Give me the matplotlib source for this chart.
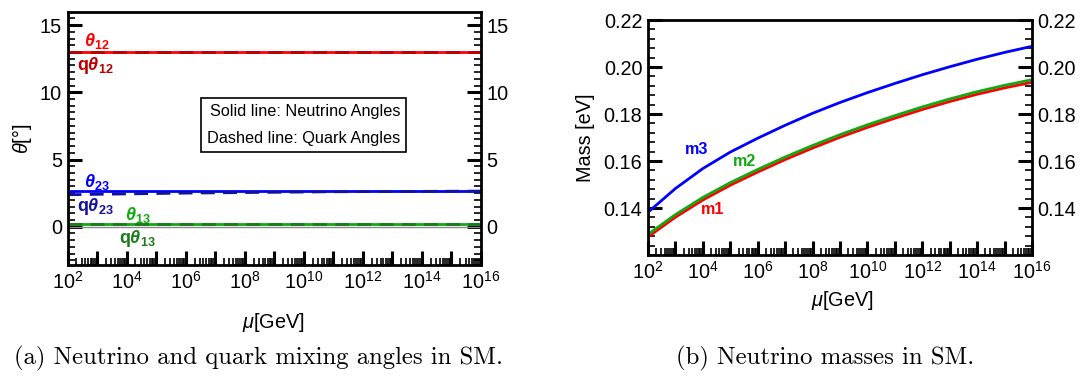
import numpy as np
import matplotlib
matplotlib.use("Agg")
import matplotlib.pyplot as plt
from matplotlib.ticker import FixedLocator, LogLocator, NullFormatter

plt.rcParams["font.family"] = ["Liberation Sans", "DejaVu Sans"]
plt.rcParams["mathtext.fontset"] = "custom"
plt.rcParams["mathtext.rm"] = "Liberation Sans"
plt.rcParams["mathtext.it"] = "Liberation Sans:italic"
plt.rcParams["mathtext.bf"] = "Liberation Sans:bold"
plt.rcParams["mathtext.bfit"] = "Liberation Sans:italic:bold"

# energy scale, log10(mu / GeV)
log_mu = [2, 3, 4, 5, 6, 7, 8, 9, 10, 11, 12, 13, 14, 15, 16]

# mixing angles [deg]
theta12 = [13.0] * 15
q_theta12 = [12.98] * 15
theta23 = [2.66] * 15
q_theta23 = [2.38, 2.41, 2.44, 2.47, 2.5, 2.52, 2.54, 2.56, 2.58, 2.6, 2.61, 2.62, 2.63, 2.64, 2.65]
theta13 = [0.2] * 15
q_theta13 = [0.18] * 15

# neutrino masses [eV]
m1 = [0.1277, 0.1361, 0.1434, 0.1497, 0.1553, 0.1606, 0.1655, 0.1701,
      0.1743, 0.1782, 0.1819, 0.1853, 0.1884, 0.1911, 0.1935]
m2 = [0.1288, 0.1372, 0.1445, 0.1508, 0.1564, 0.1617, 0.1666, 0.1712,
      0.1754, 0.1793, 0.1830, 0.1864, 0.1895, 0.1922, 0.1946]
m3 = [0.1382, 0.1483, 0.1568, 0.1638, 0.1697, 0.1752, 0.1803, 0.1849,
      0.1891, 0.1930, 0.1967, 0.2001, 0.2033, 0.2062, 0.2088]

RED, DRED = "#ff0000", "#b80000"
BLUE, DBLUE = "#0000ff", "#12129c"
GREEN, DGREEN = "#12a812", "#1c7a1c"

fig = plt.figure(figsize=(10.84, 3.76), dpi=100)
ax1 = fig.add_axes([0.0623, 0.2952, 0.3814, 0.6737])
ax2 = fig.add_axes([0.5978, 0.3218, 0.3542, 0.6250])

mu = 10.0 ** np.array(log_mu)


def style_axes(ax, yticks, ylabels, yminor):
    ax.set_xscale("log")
    ax.set_xlim(1e2, 1e16)
    dec = 10.0 ** np.arange(2, 17)
    ax.xaxis.set_major_locator(FixedLocator(dec))
    ax.set_xticklabels([f"$10^{{{e}}}$" if e % 2 == 0 else "" for e in range(2, 17)])
    ax.xaxis.set_minor_locator(LogLocator(base=10, subs=np.arange(2, 10), numticks=100))
    ax.xaxis.set_minor_formatter(NullFormatter())
    ax.set_yticks(yticks)
    ax.set_yticklabels(ylabels)
    ax.yaxis.set_minor_locator(FixedLocator(yminor))
    ax.tick_params(axis="both", which="both", direction="in", top=False,
                   right=True, labelright=True, labelsize=14.3, pad=4)
    ax.tick_params(axis="both", which="major", length=10, width=2.2)
    ax.tick_params(axis="both", which="minor", length=5, width=1.2)
    for s in ax.spines.values():
        s.set_linewidth(2)


# (a) mixing angles
ax1.axhline(0, color="#888888", lw=1)
ax1.plot(mu, theta12, color=RED, lw=2)
ax1.plot(mu, q_theta12, color=DRED, lw=2, ls=(0, (5, 3)))
ax1.plot(mu, theta23, color=BLUE, lw=2)
ax1.plot(mu, q_theta23, color=DBLUE, lw=2, ls=(0, (5, 3)))
ax1.plot(mu, theta13, color=GREEN, lw=2)
ax1.plot(mu, q_theta13, color=DGREEN, lw=2, ls=(0, (5, 3)))
ax1.set_ylim(-2.85, 16)
style_axes(ax1, [0, 5, 10, 15], ["0", "5", "10", "15"], np.arange(-2.5, 16, 0.5))

lab = dict(fontsize=13, ha="center", va="center")
ax1.text(10 ** 2.99, 13.85, r"$\mathbfit{\theta}_{\mathbf{12}}$", color=RED, **lab)
ax1.text(10 ** 2.93, 12.0, r"$\mathbf{q}\mathbfit{\theta}_{\mathbf{12}}$", color=DRED, **lab)
ax1.text(10 ** 2.99, 3.3, r"$\mathbfit{\theta}_{\mathbf{23}}$", color=BLUE, **lab)
ax1.text(10 ** 2.93, 1.48, r"$\mathbf{q}\mathbfit{\theta}_{\mathbf{23}}$", color=DBLUE, **lab)
ax1.text(10 ** 4.40, 0.9, r"$\mathbfit{\theta}_{\mathbf{13}}$", color=GREEN, **lab)
ax1.text(10 ** 4.37, -0.86, r"$\mathbf{q}\mathbfit{\theta}_{\mathbf{13}}$", color=DGREEN, **lab)

ax1.text(0.805, 0.552, "Solid line: Neutrino Angles\n\nDashed line: Quark Angles",
         transform=ax1.transAxes, ha="right", va="center", fontsize=11.7, linespacing=0.9,
         bbox=dict(boxstyle="square,pad=0.35", fc="white", ec="black", lw=1.2))
ax1.set_ylabel(r"$\theta$[°]", fontsize=14.3, labelpad=4)

# (b) masses
ax2.plot(mu, m3, color=BLUE, lw=2)
ax2.plot(mu, m1, color=RED, lw=2)
ax2.plot(mu, m2, color=GREEN, lw=2)
ax2.set_ylim(0.12, 0.22)
style_axes(ax2, [0.14, 0.16, 0.18, 0.20, 0.22],
           ["0.14", "0.16", "0.18", "0.20", "0.22"], np.arange(0.12, 0.2201, 0.004))
mlab = dict(fontsize=11.6, fontweight="bold", ha="center", va="center")
ax2.text(10 ** 3.78, 0.1647, "m3", color=BLUE, **mlab)
ax2.text(10 ** 5.5, 0.1597, "m2", color=GREEN, **mlab)
ax2.text(10 ** 4.35, 0.1393, "m1", color=RED, **mlab)
ax2.set_ylabel("Mass [eV]", fontsize=14.3, labelpad=6)

fig.text(273 / 1084, 1 - 322 / 376, r"$\mu$[GeV]", fontsize=14.3, ha="center", va="center")
fig.text(842 / 1084, 1 - 300 / 376, r"$\mu$[GeV]", fontsize=14.3, ha="center", va="center")

cap = dict(fontsize=17.8, family="cmr10", ha="center", va="center")
fig.text(258 / 1084, 1 - 358 / 376, "(a) Neutrino and quark mixing angles in SM.", **cap)
fig.text(825 / 1084, 1 - 358 / 376, "(b) Neutrino masses in SM.", **cap)

fig.savefig("out.png", dpi=100)
